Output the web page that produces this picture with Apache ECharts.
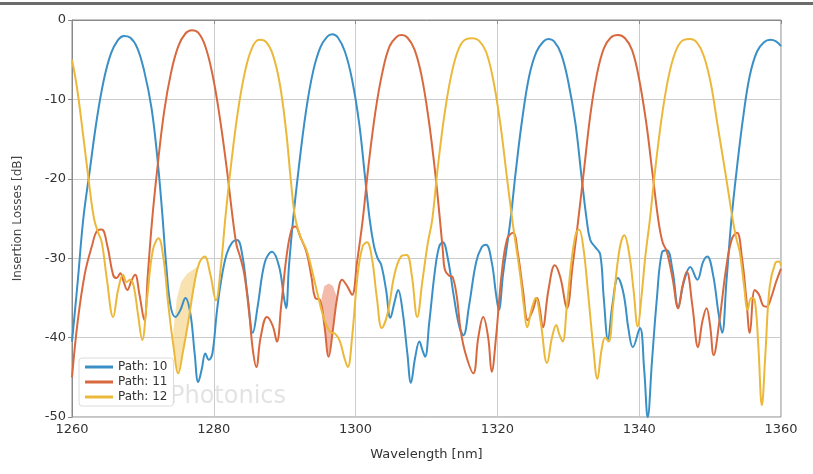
<!DOCTYPE html>
<html>
<head>
<meta charset="utf-8">
<title>Insertion Losses</title>
<script src="https://cdn.jsdelivr.net/npm/echarts@6/dist/echarts.min.js"></script>
<style>
  html, body { margin: 0; padding: 0; background: #fff; }
  #main { width: 813px; height: 474px; }
</style>
</head>
<body>
<div id="main"></div>
<script>
// 波长 / 插损数据，从图上读出的点 [nm, dB]
var path10 = [
    [1260, -40.5], [1260.8, -33], [1261.6, -25], [1262.5, -19], [1263.5, -12.5], [1264.5, -7.5], [1265.5, -4.2],
    [1266.5, -2.5], [1267.3, -2.0], [1268.2, -2.2], [1269.2, -3.5], [1270.2, -6.5], [1271.2, -11], [1272, -17],
    [1272.7, -24], [1273.3, -31], [1273.9, -36], [1274.6, -37.4], [1275.3, -36.5], [1276.0, -35], [1276.7, -37],
    [1277.3, -42], [1277.8, -45.6], [1278.3, -44], [1278.8, -42], [1279.3, -42.8], [1279.8, -42], [1280.4, -37],
    [1281, -33], [1281.8, -29.5], [1282.6, -28], [1283.3, -27.7], [1284, -29.5], [1284.8, -35], [1285.5, -39.4],
    [1286.2, -36], [1287.2, -30.5], [1288.2, -29.2], [1289.2, -31], [1289.9, -35], [1290.2, -36.3], [1290.6, -31],
    [1291.2, -25], [1292, -18.5], [1293, -11.5], [1294, -6.5], [1295, -3.5], [1296, -2.1], [1296.7, -1.8],
    [1297.5, -2.2], [1298.5, -4], [1299.5, -7.5], [1300.5, -13], [1301.3, -19.5], [1302, -25.2], [1302.6, -28.5],
    [1303.1, -30], [1303.6, -30.8], [1304.3, -34], [1304.9, -37.5], [1305.5, -35.5], [1306, -34], [1306.6, -36.5],
    [1307.3, -42], [1307.8, -45.7], [1308.4, -42.5], [1309, -40.5], [1309.4, -41.5], [1309.8, -42.4], [1310.4, -38],
    [1311.2, -31.5], [1311.8, -28.5], [1312.3, -28], [1313, -30], [1313.8, -34.5], [1314.6, -38.5], [1315.2, -39.7],
    [1316, -36], [1317, -30.5], [1317.8, -28.6], [1318.4, -28.3], [1319.2, -30.5], [1319.8, -34.5], [1320.2, -36.5],
    [1320.8, -32], [1321.8, -25.5], [1322.6, -19], [1323.5, -12.5], [1324.5, -7], [1325.5, -4], [1326.5, -2.7],
    [1327.2, -2.4], [1328, -2.7], [1329, -4.3], [1330, -7.8], [1331, -13], [1331.9, -20], [1332.6, -25.2],
    [1333.1, -27.7], [1333.8, -28.6], [1334.5, -29.5], [1335, -35], [1335.6, -40.3], [1336.2, -36], [1337, -32.5],
    [1337.8, -34.5], [1338.5, -39], [1339.1, -41.2], [1340.1, -38.8], [1340.7, -44], [1341.2, -50], [1341.8, -43],
    [1342.5, -35], [1343.2, -29.3], [1343.9, -29], [1344.7, -31.5], [1345.5, -36.1], [1346.3, -33], [1347.2, -31.1],
    [1348.2, -32.7], [1349, -30.5], [1349.6, -29.8], [1350.4, -32], [1351.2, -37], [1351.7, -39.4], [1352.3, -33],
    [1353, -25.2], [1353.8, -18.5], [1354.7, -12], [1355.6, -7], [1356.6, -4], [1357.6, -2.8], [1358.5, -2.5],
    [1359.3, -2.7], [1360, -3.3]
];

var path11 = [
    [1260, -45], [1260.8, -38], [1261.8, -32], [1262.8, -28.5], [1263.6, -26.5], [1264.2, -26.4], [1265, -28.5],
    [1265.8, -32.1], [1266.3, -32.5], [1266.8, -31.9], [1267.3, -33], [1267.8, -34], [1268.4, -32.8], [1268.9, -32.1],
    [1269.5, -34.5], [1270.2, -37.8], [1270.7, -32], [1271.3, -25.2], [1272, -19], [1273, -11.5], [1274, -6.5],
    [1275, -3.3], [1276, -1.7], [1276.9, -1.3], [1277.8, -1.6], [1278.8, -3.3], [1279.8, -6.8], [1280.8, -12],
    [1281.8, -18.5], [1282.7, -25.2], [1283.2, -28.3], [1283.7, -29.8], [1284.3, -32], [1285, -37], [1285.5, -41.5],
    [1286, -43.7], [1286.6, -40], [1287.5, -37.4], [1288.3, -38.5], [1288.9, -40.5], [1289.5, -36], [1290.3, -29.5],
    [1291, -26.3], [1291.5, -26], [1292.2, -27.3], [1293.1, -29.3], [1293.8, -32.5], [1294.3, -35], [1295, -35.3],
    [1295.6, -38.5], [1296.2, -42.4], [1296.8, -39], [1297.4, -35], [1298.1, -32.7], [1298.8, -33.5], [1299.5, -34.6],
    [1300.2, -30.5], [1301, -25.2], [1301.8, -18.5], [1302.8, -11.5], [1303.8, -6.5], [1304.8, -3.3], [1305.8, -2.1],
    [1306.5, -1.9], [1307.3, -2.2], [1308.3, -3.7], [1309.3, -7], [1310.3, -12.5], [1311.2, -19], [1311.9, -25.2],
    [1312.3, -29], [1312.6, -31.5], [1313.2, -32.2], [1313.7, -32.4], [1314.3, -35], [1314.8, -39], [1315.5, -42],
    [1316.6, -44.5], [1317.3, -40], [1318, -37.4], [1318.7, -40], [1319.2, -44.3], [1319.8, -40], [1320.6, -32],
    [1321.4, -27.5], [1322.2, -26.8], [1322.9, -29.5], [1323.6, -34], [1324.3, -37.8], [1325, -36.5], [1325.6, -35],
    [1326, -36.5], [1326.4, -38.7], [1327.2, -34], [1328.1, -30.9], [1328.9, -32.5], [1329.8, -36.3], [1330.6, -31],
    [1331.4, -25.2], [1332.2, -19], [1333.1, -12], [1334, -7], [1335, -3.6], [1336, -2.2], [1337, -1.9],
    [1338, -2.3], [1339, -3.8], [1340, -7.5], [1341, -13], [1341.9, -19.5], [1342.7, -25.2], [1343.3, -28],
    [1343.9, -29.2], [1344.7, -32.5], [1345.5, -36.3], [1346.1, -33.5], [1346.7, -31.7], [1347.5, -36], [1348.3, -41.2],
    [1348.9, -38], [1349.5, -36.3], [1350, -38.5], [1350.5, -42.2], [1351.3, -38], [1352.3, -31], [1353.1, -27.5],
    [1353.8, -26.8], [1354.5, -30], [1355.1, -35], [1355.6, -39.4], [1356.3, -34], [1356.9, -34.6], [1357.5, -36],
    [1358, -36.1], [1358.6, -35], [1359.3, -33], [1360, -31.3]
];

var path12 = [
    [1260, -5], [1260.7, -8.5], [1261.5, -14], [1262.4, -20.5], [1263.1, -25], [1263.7, -26.8], [1264.2, -28],
    [1264.9, -32.5], [1265.8, -37.4], [1266.5, -34], [1267.2, -32.1], [1267.7, -33], [1268.2, -32.7], [1268.7, -33.5],
    [1269.3, -37], [1269.9, -40.3], [1270.6, -35], [1271.4, -29], [1272.2, -27.5], [1272.9, -30], [1273.6, -36],
    [1274.3, -41], [1275, -44.5], [1275.6, -42], [1276.4, -38], [1277.3, -33], [1278, -30.5], [1278.7, -29.8],
    [1279.5, -32], [1280.3, -35.3], [1281, -31], [1281.6, -25.2], [1282.4, -18.5], [1283.4, -11.5], [1284.4, -6.5],
    [1285.4, -3.5], [1286.4, -2.5], [1287.3, -2.7], [1288.3, -4.3], [1289.3, -8], [1290.2, -14], [1290.9, -20.5],
    [1291.5, -25], [1292.3, -27.5], [1293, -28.8], [1293.6, -30.6], [1294.5, -34], [1295.5, -37.5], [1296.4, -39.3],
    [1297.1, -39.5], [1297.8, -40.5], [1298.4, -42.5], [1298.9, -43.7], [1299.5, -40], [1300.3, -32], [1301, -28.5],
    [1301.6, -28], [1302.3, -30], [1303, -35], [1303.7, -38.8], [1304.5, -37], [1305.5, -32], [1306.4, -29.8],
    [1307.2, -29.6], [1307.9, -32], [1308.7, -37.4], [1309.4, -33], [1310.2, -28], [1310.8, -25.2], [1311.6, -18.5],
    [1312.6, -11.5], [1313.6, -6.5], [1314.6, -3.5], [1315.6, -2.4], [1316.5, -2.3], [1317.4, -2.6], [1318.4, -4],
    [1319.4, -7.5], [1320.4, -13], [1321.3, -19.5], [1322, -24.5], [1322.5, -27.7], [1323.2, -32], [1323.8, -36.5],
    [1324.2, -38.7], [1324.8, -36.5], [1325.4, -35], [1326.1, -38], [1327, -43.2], [1327.7, -40], [1328.3, -38.4],
    [1328.7, -39.5], [1329.2, -40.5], [1329.8, -36], [1330.5, -30], [1331.1, -26.8], [1331.5, -26.4], [1332.1, -28.5],
    [1332.8, -34.5], [1333.5, -41], [1334.1, -45.2], [1334.7, -41.5], [1335.2, -40], [1335.7, -40.5], [1336.3, -36],
    [1337.2, -29], [1337.9, -27.1], [1338.6, -29.5], [1339.2, -34], [1339.8, -38.6], [1340.3, -35], [1340.9, -29.5],
    [1341.5, -25.2], [1342.3, -18.5], [1343.3, -11.5], [1344.3, -6.5], [1345.3, -3.6], [1346.3, -2.5], [1347.2, -2.4],
    [1348.1, -2.8], [1349.1, -4.5], [1350.1, -8], [1351.1, -13.5], [1352.2, -19.5], [1353.2, -25.2], [1353.7, -27.5],
    [1354.2, -29.3], [1354.8, -33.5], [1355.3, -36.5], [1355.8, -35], [1356.3, -35.3], [1356.8, -41], [1357.3, -48.5],
    [1357.8, -42], [1358.4, -33.6], [1359.2, -30.6], [1359.7, -30.4], [1360, -31]
];

// 阴影带（上沿 / 下沿）
var band12Upper = [[1274.3, -39], [1274.8, -35], [1275.4, -33], [1276.2, -32], [1277, -31.5], [1277.8, -31]];
var band12Lower = [[1274.3, -41], [1275, -44.5], [1275.6, -42], [1276.4, -38], [1277.3, -33], [1277.8, -31]];
var band11Upper = [[1295.2, -35], [1295.6, -33.5], [1296.2, -33.2], [1296.8, -33.5], [1297.4, -35]];
var band11Lower = [[1295.2, -36], [1295.6, -38.5], [1296.2, -42.4], [1296.8, -39], [1297.4, -35]];

var seriesNames = ['Path: 10', 'Path: 11', 'Path: 12'];
var xTicks = [1260, 1280, 1300, 1320, 1340, 1360];
var yTicks = [-50, -40, -30, -20, -10, 0];

var colors = ['#3a90c6', '#d8693f', '#ecb83a'];

function bandSeries(upper, lower, fill) {
    return {
        type: 'custom',
        name: 'band',
        silent: true,
        z: 1,
        data: [[upper[0][0], upper[0][1]]],
        renderItem: function (params, api) {
            var pts = [];
            upper.forEach(function (p) { pts.push(api.coord(p)); });
            lower.slice().reverse().forEach(function (p) { pts.push(api.coord(p)); });
            return { type: 'polygon', shape: { points: pts }, style: { fill: fill } };
        }
    };
}

function lineSeries(i, data) {
    return {
        name: seriesNames[i],
        type: 'line',
        data: data,
        symbol: 'none',
        smooth: 0.4,
        z: 3 + i,
        lineStyle: { width: 2, color: colors[i] },
        itemStyle: { color: colors[i] }
    };
}

var myChart = echarts.init(document.getElementById('main'));

var option = {
    animation: false,
    backgroundColor: '#fff',
    grid: {
        left: 72, right: 32, top: 20, bottom: 57,
        show: true, borderColor: '#8a8a8a', borderWidth: 1
    },
    graphic: [
        // 顶部的深灰色横条
        { type: 'rect', left: 0, top: 2, shape: { width: 813, height: 3 }, style: { fill: '#6b6b6b' }, z: 10 },
        // 水印
        {
            type: 'text', left: 170, top: 385, z: 0,
            style: { text: 'Photonics', fontSize: 24, fontFamily: 'DejaVu Sans', fill: 'rgba(175,175,175,0.35)' }
        }
    ],
    legend: {
        data: seriesNames,
        orient: 'vertical',
        left: 79, top: 358,
        itemWidth: 28, itemHeight: 3, itemGap: 3,
        icon: 'rect',
        padding: [3, 6, 3, 6],
        backgroundColor: 'rgba(255,255,255,0.8)',
        borderColor: '#dcdcdc', borderWidth: 1, borderRadius: 3,
        textStyle: { fontSize: 12, color: '#333', fontFamily: 'DejaVu Sans' }
    },
    xAxis: {
        type: 'value',
        min: xTicks[0], max: xTicks[xTicks.length - 1], interval: 20,
        name: 'Wavelength [nm]', nameLocation: 'middle', nameGap: 31,
        nameTextStyle: { fontSize: 13, color: '#333', fontFamily: 'DejaVu Sans' },
        axisLine: { lineStyle: { color: '#8a8a8a' } },
        axisTick: { show: true, length: 4, lineStyle: { color: '#8a8a8a' } },
        axisLabel: {
            fontSize: 13, color: '#333', margin: 6, fontFamily: 'DejaVu Sans',
            formatter: function (v) { return String(v); }
        },
        splitLine: { show: true, lineStyle: { color: '#cccccc', width: 1 } }
    },
    yAxis: {
        type: 'value',
        min: yTicks[0], max: yTicks[yTicks.length - 1], interval: 10,
        name: 'Insertion Losses [dB]', nameLocation: 'middle', nameGap: 48,
        nameTextStyle: { fontSize: 12, color: '#444', fontFamily: 'DejaVu Sans' },
        axisLine: { show: true, lineStyle: { color: '#8a8a8a' } },
        axisTick: { show: true, length: 4, lineStyle: { color: '#8a8a8a' } },
        axisLabel: {
            fontSize: 13, color: '#333', margin: 6, fontFamily: 'DejaVu Sans',
            formatter: function (v) { return String(v); }
        },
        splitLine: { show: true, lineStyle: { color: '#cccccc', width: 1 } }
    },
    series: [
        bandSeries(band12Upper, band12Lower, 'rgba(240,190,80,0.45)'),
        bandSeries(band11Upper, band11Lower, 'rgba(232,120,90,0.5)'),
        lineSeries(0, path10),
        lineSeries(1, path11),
        lineSeries(2, path12)
    ]
};

myChart.setOption(option);
</script>
</body>
</html>
